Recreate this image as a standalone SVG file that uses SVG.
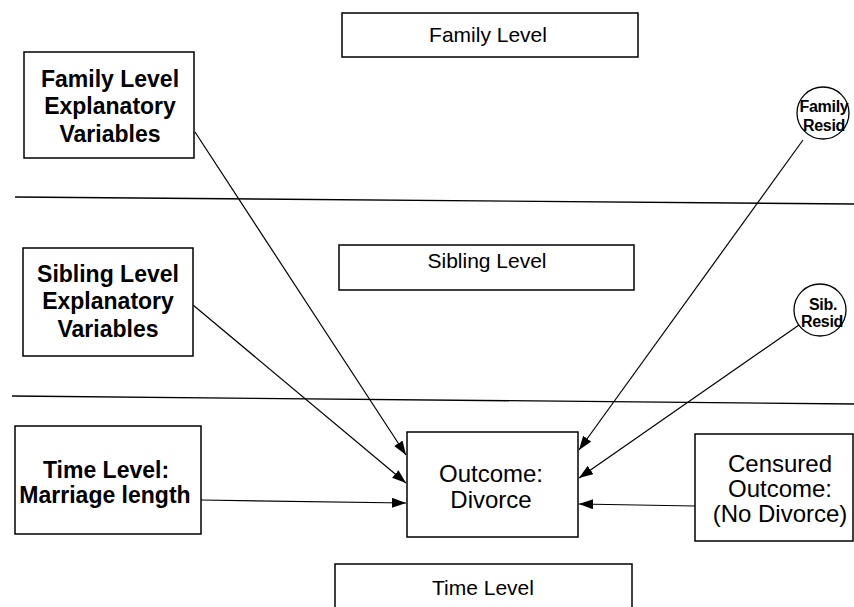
<svg xmlns="http://www.w3.org/2000/svg" width="854" height="607" viewBox="0 0 854 607">
<style>
.box{fill:#fff;stroke:#000;stroke-width:1.5}
.t{font-family:"Liberation Sans",Arial,sans-serif;fill:#000;text-anchor:middle}
.b{font-weight:bold;font-size:23px}
.m{font-size:24px}
.s{font-size:21px}
.c{font-size:16px;font-weight:bold;letter-spacing:-0.3px}
.ln{stroke:#000;stroke-width:1.3;fill:none}
.ar{stroke:#000;stroke-width:1.2;fill:none;marker-end:url(#ah)}
</style>
<defs>
<marker id="ah" viewBox="0 0 14 10" refX="14" refY="5" markerWidth="14" markerHeight="10" markerUnits="userSpaceOnUse" orient="auto">
<path d="M0,0 L14,5 L0,10 Z" fill="#000"/>
</marker>
</defs>
<g id="dividers">
<line class="ln" x1="15" y1="197" x2="854" y2="204"/>
<line class="ln" x1="12" y1="396" x2="854" y2="404"/>
</g>
<g id="connectors">
<line class="ar" x1="195" y1="132" x2="406" y2="455"/>
<line class="ar" x1="193" y1="305" x2="406" y2="483"/>
<line class="ar" x1="201" y1="500" x2="406" y2="503"/>
<line class="ar" x1="803" y1="140" x2="579" y2="450"/>
<line class="ar" x1="799" y1="325" x2="579" y2="478"/>
<line class="ar" x1="695" y1="506" x2="579" y2="504"/>
</g>
<g id="family-level">
<rect class="box" x="342" y="13" width="296" height="44"/>
<text class="t s" x="488" y="42">Family Level</text>
</g>
<g id="family-expl">
<rect class="box" x="24" y="52" width="170" height="106"/>
<text class="t b" x="110" y="87">Family Level</text>
<text class="t b" x="110" y="114">Explanatory</text>
<text class="t b" x="110" y="142">Variables</text>
</g>
<g id="family-resid">
<circle cx="823" cy="113" r="26" fill="#fff" stroke="#000" stroke-width="1.3"/>
<text class="t c" x="824" y="112">Family</text>
<text class="t c" x="824" y="131">Resid</text>
</g>
<g id="sibling-level">
<rect class="box" x="339" y="245" width="295" height="45"/>
<text class="t s" x="487" y="268">Sibling Level</text>
</g>
<g id="sibling-expl">
<rect class="box" x="23" y="248" width="170" height="108"/>
<text class="t b" x="108" y="282">Sibling Level</text>
<text class="t b" x="108" y="309">Explanatory</text>
<text class="t b" x="108" y="337">Variables</text>
</g>
<g id="sib-resid">
<circle cx="820" cy="310" r="26" fill="#fff" stroke="#000" stroke-width="1.3"/>
<text class="t c" x="823" y="310">Sib.</text>
<text class="t c" x="822" y="327">Resid</text>
</g>
<g id="time-marriage">
<rect class="box" x="15" y="426" width="186" height="108"/>
<text class="t b" x="106" y="478">Time Level:</text>
<text class="t b" x="105" y="503">Marriage length</text>
</g>
<g id="outcome">
<rect class="box" x="407" y="432" width="171" height="105"/>
<text class="t m" x="491" y="482">Outcome:</text>
<text class="t m" x="491" y="508">Divorce</text>
</g>
<g id="censured">
<rect class="box" x="695" y="434" width="158" height="107"/>
<text class="t m" x="780" y="472">Censured</text>
<text class="t m" x="780" y="497">Outcome:</text>
<text class="t m" x="780" y="522">(No Divorce)</text>
</g>
<g id="time-level">
<rect class="box" x="335" y="564" width="297" height="50"/>
<text class="t s" x="483" y="595">Time Level</text>
</g>
</svg>
